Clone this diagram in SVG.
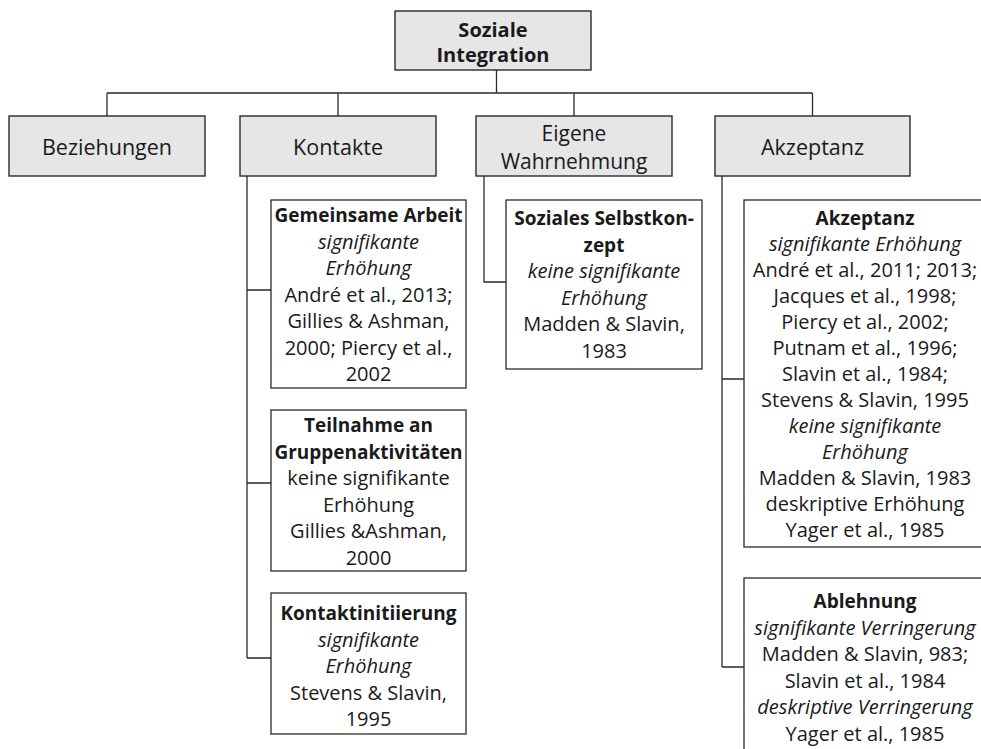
<svg xmlns="http://www.w3.org/2000/svg" width="981" height="749" viewBox="0 0 981 749">
<style>
text{font-family:"Open Sans","Liberation Sans",sans-serif;fill:#1a1a1a;text-anchor:middle}
.hd{fill:#e6e6e6;stroke:#2a2a2a;stroke-width:1.4}
.bx{fill:#ffffff;stroke:#2a2a2a;stroke-width:1.3}
.l2{font-size:21.5px}
.top{font-size:20px;font-weight:bold}
.c{font-size:20px}
.b{font-weight:bold;font-size:19px}
.i{font-style:italic}
#connectors path{fill:none;stroke:#2a2a2a;stroke-width:1.3}
</style>
<rect width="981" height="749" fill="#ffffff"/>
<g id="connectors">
<path d="M496.5 70V93M107 93H812.5M107 93V116M338 93V116M574 93V116M812.5 93V116"/>
<path d="M247 176V658M247 290H271M247 483H271M247 658H271"/>
<path d="M484 176V282H506"/>
<path d="M722 176V667M722 379H744M722 667H744"/>
</g>
<g id="soziale-integration">
<rect class="hd" x="395" y="11" width="196" height="59"/>
<text class="top" x="493" y="37">Soziale<tspan x="493" dy="25">Integration</tspan></text>
</g>
<g id="beziehungen">
<rect class="hd" x="9" y="116" width="196" height="60"/>
<text class="l2" x="107" y="155">Beziehungen</text>
</g>
<g id="kontakte">
<rect class="hd" x="240" y="116" width="196" height="60"/>
<text class="l2" x="338" y="155">Kontakte</text>
</g>
<g id="eigene-wahrnehmung">
<rect class="hd" x="476" y="116" width="196" height="60"/>
<text x="574" y="141" style="font-size:21px">Eigene</text>
<text x="574" y="169" style="font-size:21px">Wahrnehmung</text>
</g>
<g id="akzeptanz">
<rect class="hd" x="715" y="116" width="195" height="60"/>
<text class="l2" x="812.5" y="155">Akzeptanz</text>
</g>
<g id="gemeinsame-arbeit">
<rect class="bx" x="271" y="200" width="195" height="188"/>
<text class="c b" x="368.5" y="222">Gemeinsame Arbeit</text>
<text class="c i" x="368.5" y="248.5">signifikante</text>
<text class="c i" x="368.5" y="275">Erhöhung</text>
<text class="c" x="368.5" y="301.5">André et al., 2013;</text>
<text class="c" x="368.5" y="328">Gillies &amp; Ashman,</text>
<text class="c" x="368.5" y="354.5">2000; Piercy et al.,</text>
<text class="c" x="368.5" y="381">2002</text>
</g>
<g id="teilnahme">
<rect class="bx" x="271" y="410" width="195" height="161"/>
<text class="c b" x="368.5" y="432">Teilnahme an</text>
<text class="c b" x="368.5" y="458.5">Gruppenaktivitäten</text>
<text class="c" x="368.5" y="485">keine signifikante</text>
<text class="c" x="368.5" y="511.5">Erhöhung</text>
<text class="c" x="368.5" y="538">Gillies &amp;Ashman,</text>
<text class="c" x="368.5" y="564.5">2000</text>
</g>
<g id="kontaktinitiierung">
<rect class="bx" x="271" y="593" width="195" height="141"/>
<text class="c b" x="368.5" y="620">Kontaktinitiierung</text>
<text class="c i" x="368.5" y="646.5">signifikante</text>
<text class="c i" x="368.5" y="673">Erhöhung</text>
<text class="c" x="368.5" y="699.5">Stevens &amp; Slavin,</text>
<text class="c" x="368.5" y="726">1995</text>
</g>
<g id="soziales-selbstkonzept">
<rect class="bx" x="506" y="200" width="196" height="169"/>
<text class="c b" x="604" y="225">Soziales Selbstkon-</text>
<text class="c b" x="604" y="251.5">zept</text>
<text class="c i" x="604" y="278">keine signifikante</text>
<text class="c i" x="604" y="304.5">Erhöhung</text>
<text class="c" x="604" y="331">Madden &amp; Slavin,</text>
<text class="c" x="604" y="357.5">1983</text>
</g>
<g id="akzeptanz-detail">
<rect class="bx" x="744" y="200" width="242" height="347"/>
<text class="c b" x="865" y="225">Akzeptanz</text>
<text class="c i" x="865" y="251">signifikante Erhöhung</text>
<text class="c" x="865" y="277">André et al., 2011; 2013;</text>
<text class="c" x="865" y="303">Jacques et al., 1998;</text>
<text class="c" x="865" y="329">Piercy et al., 2002;</text>
<text class="c" x="865" y="355">Putnam et al., 1996;</text>
<text class="c" x="865" y="381">Slavin et al., 1984;</text>
<text class="c" x="865" y="407">Stevens &amp; Slavin, 1995</text>
<text class="c i" x="865" y="433">keine signifikante</text>
<text class="c i" x="865" y="459">Erhöhung</text>
<text class="c" x="865" y="485">Madden &amp; Slavin, 1983</text>
<text class="c" x="865" y="511">deskriptive Erhöhung</text>
<text class="c" x="865" y="537">Yager et al., 1985</text>
</g>
<g id="ablehnung">
<rect class="bx" x="744" y="578" width="242" height="200"/>
<text class="c b" x="865" y="608">Ablehnung</text>
<text class="c i" x="865" y="634.5">signifikante Verringerung</text>
<text class="c" x="865" y="661">Madden &amp; Slavin, 983;</text>
<text class="c" x="865" y="687.5">Slavin et al., 1984</text>
<text class="c i" x="865" y="714">deskriptive Verringerung</text>
<text class="c" x="865" y="740.5">Yager et al., 1985</text>
</g>
</svg>
